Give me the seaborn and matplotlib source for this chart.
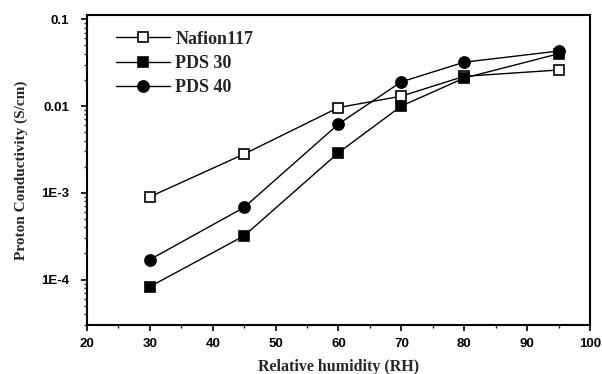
import matplotlib
matplotlib.use("Agg")
import matplotlib.pyplot as plt
import seaborn as sns
import numpy as np
import pandas as pd
from matplotlib.ticker import MultipleLocator, LogLocator, NullFormatter

rh = [30, 45, 60, 70, 80, 95]
nafion117 = [0.00090, 0.0028, 0.0096, 0.013, 0.022, 0.026]
pds30 = [0.000083, 0.00032, 0.0029, 0.010, 0.021, 0.040]
pds40 = [0.00017, 0.00068, 0.0062, 0.019, 0.032, 0.043]
series_names = ["Nafion117", "PDS 30", "PDS 40"]
ytick_vals = [1e-4, 1e-3, 1e-2, 1e-1]
ytick_labels = ["1E-4", "1E-3", "0.01", "0.1"]

sns.set_style("ticks")
plt.rcParams['font.family'] = ['Liberation Serif', 'DejaVu Serif']

fig = plt.figure(figsize=(6.02, 3.74), dpi=100)
ax = fig.add_axes([0.1445, 0.131, 0.8355, 0.829])

df = pd.DataFrame({"RH": rh, series_names[0]: nafion117,
                   series_names[1]: pds30, series_names[2]: pds40})

styles = {
    series_names[0]: dict(marker='s', markerfacecolor='white', markersize=7),
    series_names[1]: dict(marker='s', markerfacecolor='black', markersize=7),
    series_names[2]: dict(marker='o', markerfacecolor='black', markersize=8),
}
for name in series_names:
    sns.lineplot(data=df, x="RH", y=name, ax=ax, color='black', linewidth=1.0,
                 markeredgecolor='black', markeredgewidth=1.2, label=name,
                 **styles[name])

ax.set_yscale('log')
ax.set_xlim(20, 100)
ax.set_ylim(3e-5, 0.112)
ax.xaxis.set_major_locator(MultipleLocator(10))
ax.xaxis.set_minor_locator(MultipleLocator(5))
ax.set_yticks(ytick_vals)
ax.set_yticklabels(ytick_labels)
ax.yaxis.set_minor_locator(LogLocator(base=10, subs=np.arange(2, 10)))
ax.yaxis.set_minor_formatter(NullFormatter())

for lab in ax.get_xticklabels() + ax.get_yticklabels():
    lab.set_fontfamily(['Liberation Sans', 'DejaVu Sans'])
    lab.set_fontweight('bold')
    lab.set_fontsize(9.5)

ax.tick_params(axis='both', which='major', direction='out', length=4, width=1.2, colors='black')
ax.tick_params(axis='x', which='major', pad=5)
ax.tick_params(axis='y', which='major', pad=9)
ax.tick_params(axis='both', which='minor', direction='out', length=2.5, width=1.0)
ax.tick_params(top=False, right=False, which='both')
for sp in ax.spines.values():
    sp.set_visible(True)
    sp.set_linewidth(1.5)
    sp.set_color('black')

ax.set_xlabel("Relative humidity (RH)", fontsize=11.5, fontweight='bold', labelpad=7)
ax.set_ylabel("Proton Conductivity (S/cm)", fontsize=11, fontweight='bold', labelpad=9)

leg = ax.legend(loc='upper left', frameon=False, handlelength=3.0,
                handletextpad=0.3, labelspacing=0.4, bbox_to_anchor=(0.032, 0.99),
                borderaxespad=0.3,
                prop={'family': ['Liberation Serif'], 'weight': 'bold', 'size': 13})

fig.savefig("out.png", dpi=100)
